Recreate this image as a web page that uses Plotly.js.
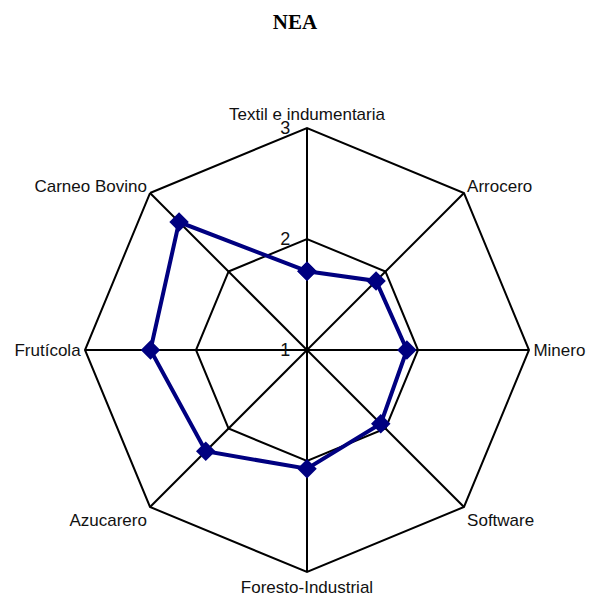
<!DOCTYPE html>
<html><head><meta charset="utf-8">
<script src="https://cdn.plot.ly/plotly-3.0.1.min.js"></script>
<style>html,body{margin:0;padding:0;background:#fff}</style>
</head><body>
<div id="chart" style="width:590px;height:613px"></div>
<script>
const categories = ["Textil e indumentaria","Arrocero","Minero","Software","Foresto-Industrial","Azucarero","Frutícola","Carneo Bovino"];
const values = [1.71, 1.88, 1.9, 1.94, 2.07, 2.29, 2.41, 2.63];
const radialTicks = [1, 2, 3];

const trace = {
  type: 'scatterpolar',
  r: values.concat([values[0]]),
  theta: categories.concat([categories[0]]),
  mode: 'lines+markers',
  line: {color: '#000080', width: 4},
  marker: {symbol: 'diamond', size: 15, color: '#000080'},
  hoverinfo: 'skip'
};

const layout = {
  width: 590, height: 613,
  margin: {l: 0, r: 0, t: 0, b: 0},
  paper_bgcolor: '#fff',
  showlegend: false,
  title: {text: '<b>NEA</b>', font: {family: 'Liberation Serif, Times New Roman, serif', size: 21, color: '#000'}, x: 0.5, xanchor: 'center', y: 1 - 22/613, yanchor: 'middle'},
  font: {family: 'Liberation Sans, Arial, sans-serif', size: 17, color: '#000'},
  polar: {
    domain: {x: [85/590, 529/590], y: [41/613, 485/613]},
    gridshape: 'linear',
    bgcolor: '#fff',
    angularaxis: {
      direction: 'clockwise', rotation: 90,
      categoryorder: 'array', categoryarray: categories,
      showline: true, linecolor: '#000', linewidth: 2,
      showgrid: true, gridcolor: '#000', gridwidth: 2,
      ticks: '', tickfont: {size: 17, color: '#111'}
    },
    radialaxis: {
      range: [1, 3], tickvals: radialTicks, ticktext: radialTicks.map(String),
      angle: 90, tickangle: 90, side: 'counterclockwise',
      showline: false, showgrid: true, gridcolor: '#000', gridwidth: 2,
      ticks: 'outside', ticklen: 10, tickcolor: 'rgba(0,0,0,0)',
      tickfont: {size: 18, color: '#111'}
    }
  }
};

Plotly.newPlot('chart', [trace], layout, {displayModeBar: false, staticPlot: true});
</script>
</body></html>
